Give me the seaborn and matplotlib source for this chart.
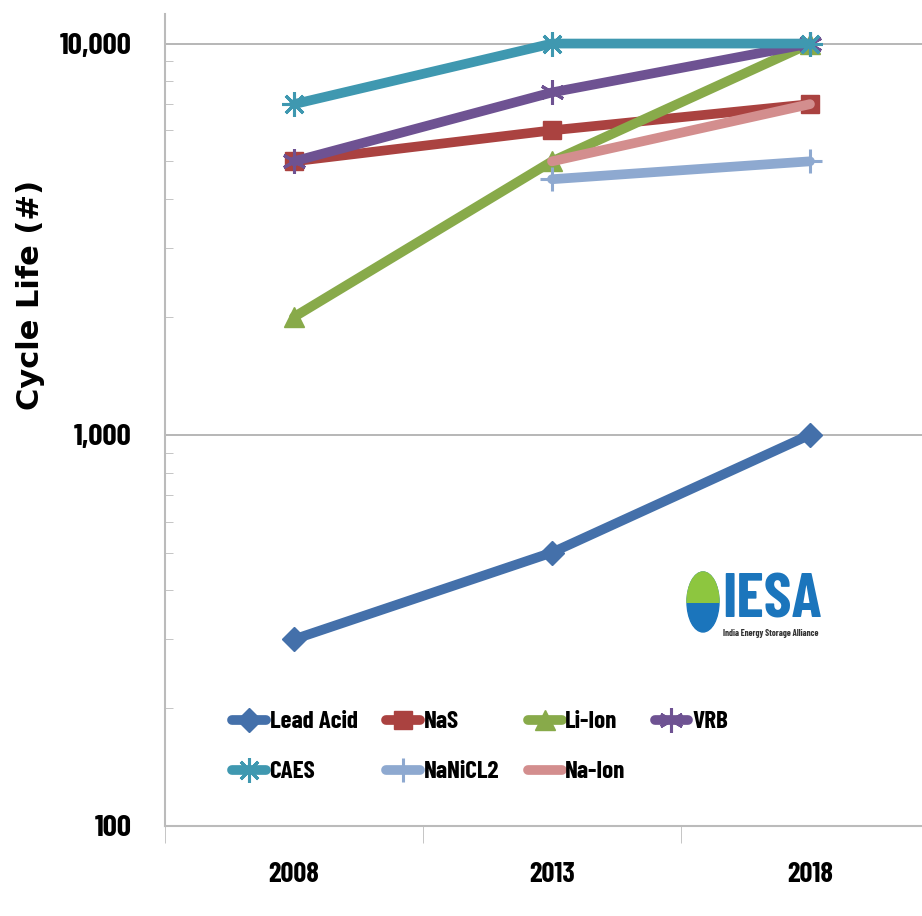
import matplotlib
import numpy as np
import pandas as pd
import seaborn as sns

matplotlib.use("Agg")
import matplotlib.pyplot as plt
from matplotlib.patches import Ellipse, Rectangle
from matplotlib.ticker import FixedLocator, NullFormatter

years = ["2008", "2013", "2018"]
lead_acid = [300, 500, 1000]
nas = [5000, 6000, 7000]
li_ion = [2000, 5000, 10000]
vrb = [5000, 7500, 10000]
caes = [7000, 10000, 10000]
nanicl2 = [np.nan, 4500, 5000]
na_ion = [np.nan, 5000, 7000]

series = {
    "Lead Acid": lead_acid,
    "NaS": nas,
    "Li-Ion": li_ion,
    "VRB": vrb,
    "CAES": caes,
    "NaNiCL2": nanicl2,
    "Na-Ion": na_ion,
}
colors = {
    "Lead Acid": "#4470AA",
    "NaS": "#AA4240",
    "Li-Ion": "#88AA4A",
    "VRB": "#6E5292",
    "CAES": "#3F98B0",
    "NaNiCL2": "#8EA9D0",
    "Na-Ion": "#D38E8E",
}
# marker, size (pt), edge width
markers = {
    "Lead Acid": ("D", 15, 1),
    "NaS": ("s", 17, 1),
    "Li-Ion": ("^", 18, 1),
    "VRB": ((6, 2, 0), 22, 2.2),
    "CAES": ((8, 2, 0), 22, 2.2),
    "NaNiCL2": ("+", 22, 2.2),
    "Na-Ion": (None, 0, 0),
}

sns.set_style("white", rc={"text.color": "black", "axes.labelcolor": "black"})
cond = ["Barlow Condensed", "DejaVu Sans"]

fig = plt.figure(figsize=(9.22, 9.16), dpi=100)
ax = fig.add_axes([165 / 922, 1 - 826 / 916, 1 - 165 / 922 + 0.01, (826 - 14) / 916])

x = np.arange(len(years))
for name, vals in series.items():
    df = pd.DataFrame({"x": x, "y": vals}).dropna()
    m, ms, mew = markers[name]
    kw = {} if m is None else dict(marker=m, markersize=ms, markeredgewidth=mew,
                                    markeredgecolor=colors[name])
    sns.lineplot(data=df, x="x", y="y", ax=ax, color=colors[name], lw=7,
                 label=name, solid_capstyle="round", **kw)

ax.set_yscale("log")
ax.set_ylim(100, 11900)
ax.set_xlim(-0.5, 2.47)

ax.yaxis.set_major_locator(FixedLocator([100, 1000, 10000]))
ax.set_yticklabels(["100", "1,000", "10,000"])
minor = [m * d for d in (100, 1000) for m in range(2, 10)]
ax.yaxis.set_minor_locator(FixedLocator(minor))
ax.yaxis.set_minor_formatter(NullFormatter())
ax.tick_params(axis="y", which="major", direction="out", length=8, color="#BBBBBB",
               pad=16, labelcolor="black")
ax.tick_params(axis="y", which="minor", direction="in", length=6, color="#BBBBBB", left=True)
ax.grid(axis="y", which="major", color="#AAAAAA", lw=1.2)

ax.set_xticks(x)
ax.set_xticklabels(years)
ax.set_xticks([-0.5, 0.5, 1.5], minor=True)
ax.tick_params(axis="x", which="major", length=0, pad=26, labelcolor="black")
ax.tick_params(axis="x", which="minor", direction="out", length=12, color="#BBBBBB", bottom=True)

for lbl in ax.get_yticklabels():
    lbl.set_family(cond)
    lbl.set_fontweight("bold")
    lbl.set_fontsize(22.5)
for lbl in ax.get_xticklabels():
    lbl.set_family(cond)
    lbl.set_fontweight("bold")
    lbl.set_fontsize(20.5)

ax.set_xlabel("")
ax.set_ylabel("Cycle Life (#)", fontsize=22, fontweight="bold", family=["DejaVu Sans"],
              va="center", ha="center")
ax.yaxis.set_label_coords(-0.176, 0.654)

for s in ("top", "right"):
    ax.spines[s].set_visible(False)
for s in ("left", "bottom"):
    ax.spines[s].set_color("#BBBBBB")
    ax.spines[s].set_linewidth(1.5)

handles, labels = ax.get_legend_handles_labels()
order = ["Lead Acid", "CAES", "NaS", "NaNiCL2", "Li-Ion", "Na-Ion", "VRB"]
hmap = dict(zip(labels, handles))
for h in hmap.values():
    h.set_markersize(h.get_markersize() * 0.8)
ax.legend([hmap[k] for k in order], order, ncol=4, frameon=False,
          loc="upper left", bbox_to_anchor=(232 / 922, 1 - 711 / 916),
          bbox_transform=fig.transFigure, borderpad=0, borderaxespad=0,
          prop={"family": cond, "weight": "bold", "size": 18},
          handlelength=1.35, handletextpad=0.15, columnspacing=1.15,
          labelspacing=1.1)

# IESA logo, in pixel coordinates of the figure
la = fig.add_axes([680 / 922, 1 - 645 / 916, 160 / 922, 80 / 916])
la.set_xlim(680, 840)
la.set_ylim(645, 565)
la.axis("off")
blue = "#1B75BC"
la.add_patch(Ellipse((703, 602), 32, 60, color=blue))
green = Ellipse((703, 602), 32, 60, color="#8DC63F")
la.add_patch(green)
green.set_clip_path(Rectangle((680, 560), 50, 43, transform=la.transData))
la.text(722, 618, "IESA", color=blue, fontsize=45, fontweight="bold",
        family=cond, va="baseline", ha="left")
la.text(723, 634, "India Energy Storage Alliance", color="#333333", fontsize=6.5,
        fontweight="bold", family=cond, va="center", ha="left")

fig.savefig("out.png", dpi=100)
